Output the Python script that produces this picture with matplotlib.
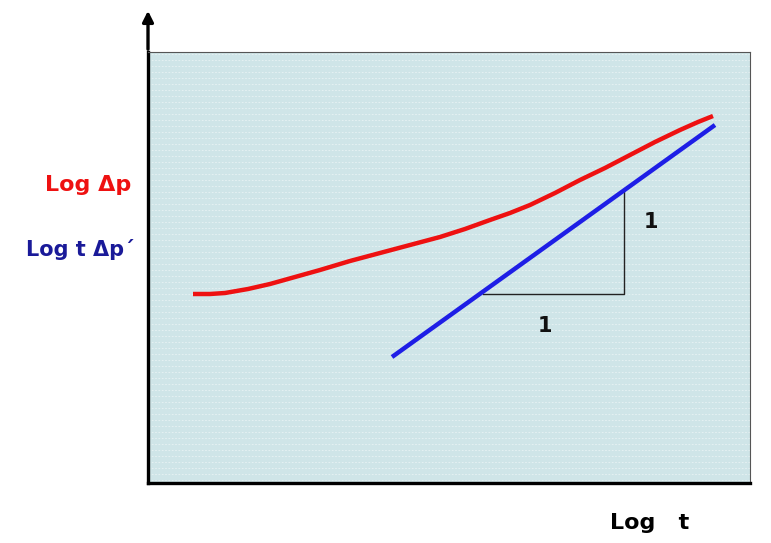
import matplotlib
matplotlib.use("Agg")
import matplotlib.pyplot as plt
import numpy as np

# Data (in axis units, origin bottom-left of the plot box)
red_x = [45, 62, 77, 100, 122, 147, 172, 202, 232, 262, 292, 317, 342, 362, 382, 407, 432, 457, 482, 507, 532, 550, 565]
red_y = [189, 189, 190, 194, 199, 206, 213, 222, 230, 238, 246, 254, 263, 270, 278, 290, 303, 315, 328, 341, 353, 361, 367]
blue_x = [244, 567]
blue_y = [126, 358]
tri_x = [335, 476, 476]
tri_y = [189, 189, 293]

W, H = 771, 543
fig = plt.figure(figsize=(W / 100, H / 100), dpi=100)
ax = fig.add_axes([148 / W, (543 - 483) / H, (750 - 148) / W, (483 - 52) / H])
ax.set_xlim(0, 602)
ax.set_ylim(0, 431)
ax.set_facecolor('#cfe5e8')

# dotted texture
for yy in np.arange(3, 431, 6):
    ax.axhline(yy, color='white', lw=0.6, ls=(0, (2, 2)), alpha=0.55, zorder=0)

ax.plot(red_x, red_y, color='#ee1111', lw=3.2, solid_capstyle='butt', zorder=3)
ax.plot(blue_x, blue_y, color='#1e1ee6', lw=3.2, solid_capstyle='butt', zorder=3)
ax.plot(tri_x, tri_y, color='#222222', lw=1.0, zorder=2)

ax.text(397, 157, '1', fontsize=15, fontweight='bold', ha='center', va='center', color='#111111')
ax.text(503, 261, '1', fontsize=15, fontweight='bold', ha='center', va='center', color='#111111')

ax.set_xticks([])
ax.set_yticks([])
for s in ['top', 'right']:
    ax.spines[s].set_color('#555555')
    ax.spines[s].set_linewidth(0.8)
for s in ['left', 'bottom']:
    ax.spines[s].set_color('black')
    ax.spines[s].set_linewidth(2.4)

# y-axis arrow
fig.add_artist(matplotlib.patches.FancyArrowPatch(
    (148 / W, (543 - 52) / H), (148 / W, (543 - 8) / H),
    transform=fig.transFigure, arrowstyle='-|>', mutation_scale=16,
    color='black', lw=2.4))

fig.text(88 / W, 1 - 185 / H, 'Log Δp', color='#ee1111', fontsize=16,
         fontweight='bold', ha='center', va='center')
fig.text(80 / W, 1 - 250 / H, 'Log t Δp´', color='#1a1a99', fontsize=15,
         fontweight='bold', ha='center', va='center')
fig.text(650 / W, 1 - 523 / H, 'Log   t', color='black', fontsize=16,
         fontweight='bold', ha='center', va='center')

fig.savefig('out.png', dpi=100)
